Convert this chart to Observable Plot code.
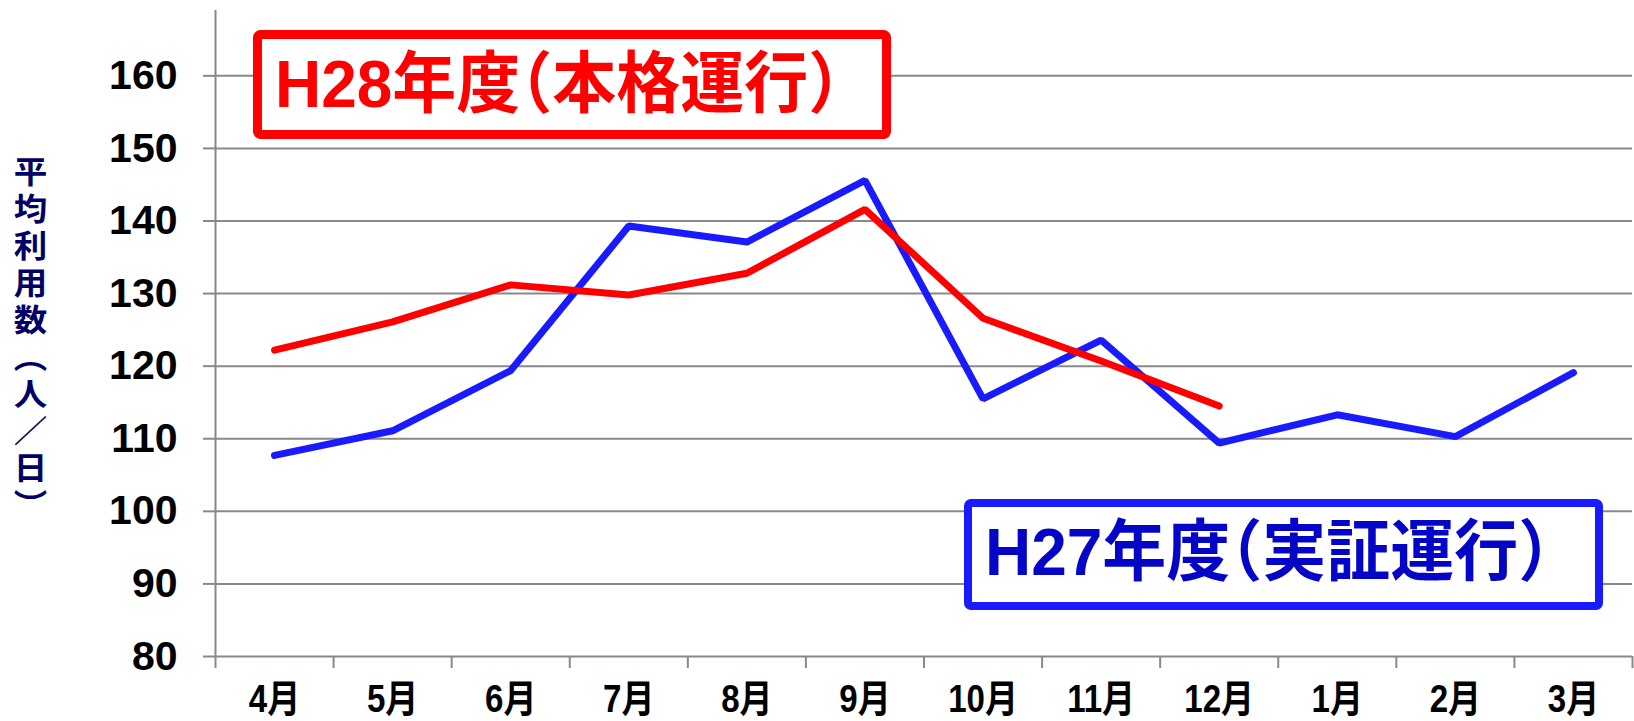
<!DOCTYPE html>
<html>
<head>
<meta charset="utf-8">
<script src="https://cdn.jsdelivr.net/npm/d3@7"></script>
<script src="https://cdn.jsdelivr.net/npm/@observablehq/plot@0.6"></script>
<style>
  html, body { margin: 0; padding: 0; background: #fff; }
  #wrap { position: relative; width: 1634px; height: 721px; overflow: hidden; }
  #ylabel {
    position: absolute; left: 13px; top: 156px;
    writing-mode: vertical-rl;
    font-family: "Noto Sans CJK JP", sans-serif; font-weight: bold;
    font-size: 31px; line-height: 34px; letter-spacing: 6px;
    color: #000066;
    transform: scaleX(1.08); transform-origin: center;
  }
</style>
</head>
<body>
<div id="wrap">
  <div id="ylabel">平均利用数（人／日）</div>
</div>
<script>
// ---- data ----
const months = ["4月","5月","6月","7月","8月","9月","10月","11月","12月","1月","2月","3月"];
const h27 = [107.7, 111.1, 119.4, 139.3, 137.1, 145.6, 115.5, 123.6, 109.4, 113.3, 110.3, 119.1];
const h28 = [122.2, 126.1, 131.2, 129.8, 132.8, 141.6, 126.6, 120.7, 114.5];
const yTicks = [80, 90, 100, 110, 120, 130, 140, 150, 160];
const seriesLabels = ["H28年度（本格運行）", "H27年度（実証運行）"];

const rows27 = h27.map((v, i) => ({pos: i + 0.5, month: months[i], value: v}));
const rows28 = h28.map((v, i) => ({pos: i + 0.5, month: months[i], value: v}));
const boundaries = d3.range(months.length + 1);
const centers = d3.range(months.length).map(i => i + 0.5);

const grid = "#898989";

const chart = Plot.plot({
  width: 1634,
  height: 721,
  marginLeft: 215,
  marginRight: 2,
  marginTop: 10,
  marginBottom: 65,
  style: {
    fontFamily: '"Liberation Sans","Noto Sans CJK JP",sans-serif',
    background: "white",
    overflow: "visible",
    color: "black"
  },
  x: {type: "linear", domain: [0, months.length], axis: null, label: null},
  y: {domain: [80, 169], axis: null, label: null},
  marks: [
    Plot.gridY(yTicks, {stroke: grid, strokeOpacity: 1, strokeWidth: 2}),
    Plot.ruleX([0], {stroke: grid, strokeWidth: 2}),
    Plot.axisY(yTicks, {
      label: null,
      tickSize: 12, tickPadding: 26, stroke: grid, strokeWidth: 2,
      fontSize: 41, fontWeight: "bold", fill: "black", tickFormat: d => String(d)
    }),
    Plot.axisX(boundaries, {
      label: null,
      tickSize: 12, stroke: grid, strokeWidth: 2, tickFormat: () => ""
    }),
    Plot.axisX(centers, {
      label: null,
      tickSize: 0, tickPadding: 29, fontSize: 38, fontWeight: "bold", fill: "black",
      tickFormat: d => months[Math.floor(d)]
    }),
    Plot.line(rows27, {x: "pos", y: "value", stroke: "#1A1AFF", strokeWidth: 7, strokeLinecap: "round", strokeLinejoin: "miter"}),
    Plot.line(rows28, {x: "pos", y: "value", stroke: "#FF0000", strokeWidth: 7, strokeLinecap: "round", strokeLinejoin: "miter"})
  ]
});

// legend boxes (annotations)
const svg = d3.select(chart);
function box(bx, by, bw, bh, sw, strokeColor, textColor, label, tx, ty) {
  const g = svg.append("g");
  g.append("rect")
    .attr("x", bx + sw / 2).attr("y", by + sw / 2)
    .attr("width", bw - sw).attr("height", bh - sw)
    .attr("rx", 3).attr("fill", "white")
    .attr("stroke", strokeColor).attr("stroke-width", sw);
  g.append("text")
    .attr("transform", `translate(${tx},${ty}) scale(0.955,1)`)
    .attr("text-anchor", "start")
    .attr("font-size", 67).attr("font-weight", "bold")
    .attr("style", 'font-feature-settings: "halt"')
    .attr("fill", textColor)
    .text(label);
}
box(253, 30, 638, 109, 9, "#FF0000", "#FF0000", seriesLabels[0], 275, 107);
box(964, 499, 639, 111, 8, "#1A1AFF", "#0505C8", seriesLabels[1], 985, 575);

document.getElementById("wrap").prepend(chart);

// condense the month tick labels around their own centres
const ns = "http://www.w3.org/2000/svg";
chart.querySelectorAll("text").forEach(t => {
  if (!months.includes(t.textContent)) return;
  const r = t.getBoundingClientRect();
  const pt = chart.createSVGPoint();
  pt.x = r.x + r.width / 2; pt.y = r.y;
  const lp = pt.matrixTransform(t.parentNode.getScreenCTM().inverse());
  const g = document.createElementNS(ns, "g");
  g.setAttribute("transform", `translate(${lp.x},0) scale(0.87,1) translate(${-lp.x},0)`);
  t.parentNode.insertBefore(g, t);
  g.appendChild(t);
});
</script>
</body>
</html>
